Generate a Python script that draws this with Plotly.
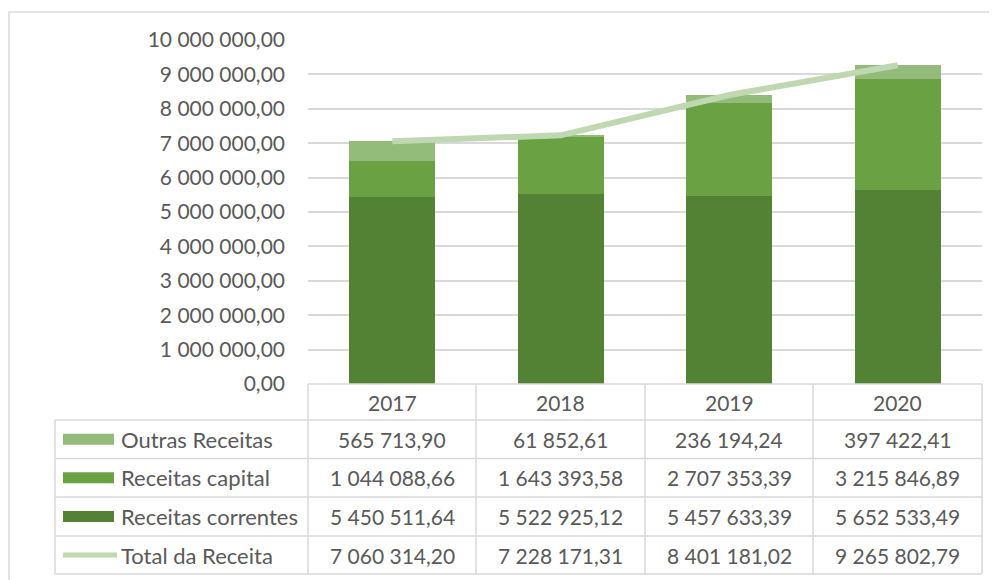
import plotly.graph_objects as go

# ---------------- data ----------------
years = ["2017", "2018", "2019", "2020"]
outras_receitas = [565713.90, 61852.61, 236194.24, 397422.41]
receitas_capital = [1044088.66, 1643393.58, 2707353.39, 3215846.89]
receitas_correntes = [5450511.64, 5522925.12, 5457633.39, 5652533.49]
total_receita = [7060314.20, 7228171.31, 8401181.02, 9265802.79]
series_names = ["Outras Receitas", "Receitas capital", "Receitas correntes", "Total da Receita"]
y_tick_values = [0, 1000000, 2000000, 3000000, 4000000, 5000000,
                 6000000, 7000000, 8000000, 9000000, 10000000]

# ---------------- style ----------------
OFF = 8  # default body margin of the html page
W, H = 997 - OFF, 580 - OFF
FONT = "Lato, 'Open Sans', sans-serif"
TXT = "#595959"
GRID = "#d9d9d9"
C_CORR = "#548235"
C_CAP = "#6aa142"
C_OUT = "#93bb79"
C_TOT = "#bfd8b1"
FS = 21
FS_LEG = 22


def fmt(v):
    s = f"{v:,.2f}"
    return s.replace(",", " ").replace(".", ",")


def px(x):
    return (x - OFF) / W


def py(y):
    return 1 - (y - OFF) / H


fig = go.Figure()
fig.add_trace(go.Bar(x=years, y=receitas_correntes, name=series_names[2],
                     marker=dict(color=C_CORR, line=dict(width=0)), width=0.51))
fig.add_trace(go.Bar(x=years, y=receitas_capital, name=series_names[1],
                     marker=dict(color=C_CAP, line=dict(width=0)), width=0.51))
fig.add_trace(go.Bar(x=years, y=outras_receitas, name=series_names[0],
                     marker=dict(color=C_OUT, line=dict(width=0)), width=0.51))
fig.add_trace(go.Scatter(x=years, y=total_receita, name=series_names[3], mode="lines",
                         line=dict(color=C_TOT, width=6)))

# ---------------- table geometry ----------------
tbl_left, plot_left, plot_right = 55, 308, 982
col_lines = [308, 476, 645, 813, 982]
row_lines = [384, 420, 458.5, 497, 536, 574]
header_mid = (row_lines[0] + row_lines[1]) / 2
row_mids = [(row_lines[i] + row_lines[i + 1]) / 2 for i in range(1, 5)]

shapes = []
# outer chart border
shapes.append(dict(type="rect", xref="paper", yref="paper",
                   x0=px(9), x1=px(993), y0=py(600), y1=py(12),
                   line=dict(color=GRID, width=1.5), fillcolor="rgba(0,0,0,0)", layer="below"))
# horizontal table lines
for i, yl in enumerate(row_lines):
    x0 = plot_left if i == 0 else tbl_left
    shapes.append(dict(type="line", xref="paper", yref="paper",
                       x0=px(x0), x1=px(plot_right), y0=py(yl), y1=py(yl),
                       line=dict(color=GRID, width=1.5)))
# vertical table lines
for xl in col_lines:
    shapes.append(dict(type="line", xref="paper", yref="paper",
                       x0=px(xl), x1=px(xl), y0=py(row_lines[0]), y1=py(row_lines[-1]),
                       line=dict(color=GRID, width=1.5)))
shapes.append(dict(type="line", xref="paper", yref="paper",
                   x0=px(tbl_left), x1=px(tbl_left), y0=py(row_lines[1]), y1=py(row_lines[-1]),
                   line=dict(color=GRID, width=1.5)))

# legend keys
key_colors = [C_OUT, C_CAP, C_CORR]
for i, c in enumerate(key_colors):
    ym = row_mids[i]
    shapes.append(dict(type="rect", xref="paper", yref="paper",
                       x0=px(63), x1=px(114), y0=py(ym + 5.5), y1=py(ym - 5.5),
                       line=dict(width=0), fillcolor=c))
shapes.append(dict(type="line", xref="paper", yref="paper",
                   x0=px(63), x1=px(117), y0=py(row_mids[3]), y1=py(row_mids[3]),
                   line=dict(color=C_TOT, width=5)))

annotations = []
for i, yr in enumerate(years):
    annotations.append(dict(x=i, xref="x", y=py(header_mid), yref="paper", text=yr,
                            showarrow=False, xanchor="center", yanchor="middle",
                            font=dict(family=FONT, size=FS, color=TXT)))
table_series = [outras_receitas, receitas_capital, receitas_correntes, total_receita]
for r, (name, vals) in enumerate(zip(series_names, table_series)):
    ym = row_mids[r]
    annotations.append(dict(x=px(119), xref="paper", y=py(ym), yref="paper", text=name,
                            showarrow=False, xanchor="left", yanchor="middle",
                            font=dict(family=FONT, size=FS_LEG, color=TXT)))
    for i, v in enumerate(vals):
        annotations.append(dict(x=i, xref="x", y=py(ym), yref="paper", text=fmt(v),
                                showarrow=False, xanchor="center", yanchor="middle",
                                font=dict(family=FONT, size=FS, color=TXT)))

fig.update_layout(
    width=W, height=H,
    margin=dict(l=0, r=0, t=0, b=0, pad=0),
    paper_bgcolor="white", plot_bgcolor="white",
    barmode="stack", bargap=0.49,
    showlegend=False,
    font=dict(family=FONT, color=TXT, size=FS),
    xaxis=dict(domain=[px(plot_left), px(plot_right)], range=[-0.5, 3.5],
               type="category", showticklabels=False, showgrid=False,
               zeroline=False, showline=False, fixedrange=True, automargin=False),
    yaxis=dict(domain=[py(384), py(40)], range=[0, 10000000],
               tickvals=y_tick_values, ticktext=[fmt(v) for v in y_tick_values],
               tickfont=dict(family=FONT, size=FS, color=TXT),
               ticklabelstandoff=22,
               showgrid=True, gridcolor=GRID, gridwidth=1.5,
               zeroline=False, showline=False, fixedrange=True, automargin=False),
    shapes=shapes,
    annotations=annotations,
)

fig.write_html("out.html")
